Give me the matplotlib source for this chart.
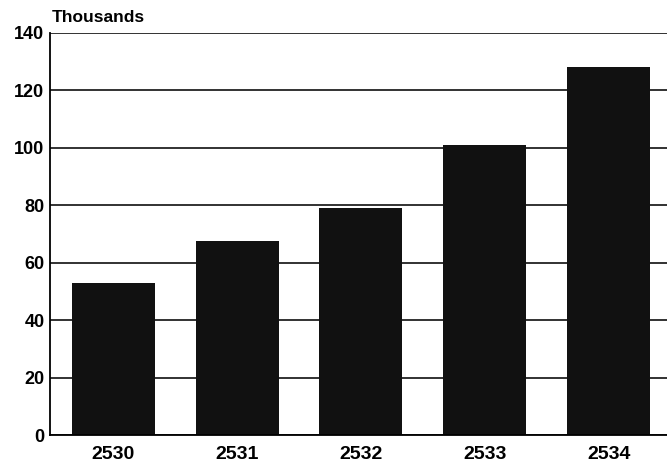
import matplotlib.pyplot as plt

# Valori (migliaia)
anni = ['2530', '2531', '2532', '2533', '2534']
valori = [53, 67.5, 79, 101, 128]
tick_y = [0, 20, 40, 60, 80, 100, 120, 140]

plt.rcParams['font.family'] = ['Liberation Sans', 'DejaVu Sans']

fig = plt.figure(figsize=(6.67, 4.68), dpi=100)
ax = fig.add_axes([0.075, 0.07, 0.925, 0.86])

ax.bar(range(len(anni)), valori, width=0.67, color='#111111', zorder=2)

ax.set_ylim(0, 140)
ax.set_xlim(-0.51, 4.47)
ax.set_yticks(tick_y)
ax.set_xticks(range(len(anni)))
ax.set_xticklabels(anni)
ax.yaxis.grid(True, color='#222222', linewidth=1.3, zorder=1)
ax.set_axisbelow(True)

for lbl in ax.get_yticklabels():
    lbl.set_fontweight('bold')
    lbl.set_fontsize(13)
for lbl in ax.get_xticklabels():
    lbl.set_fontweight('bold')
    lbl.set_fontsize(14)
ax.tick_params(axis='y', length=0, pad=4)
ax.tick_params(axis='x', length=0, pad=8)

ax.spines['right'].set_visible(False)
ax.spines['top'].set_visible(False)
ax.spines['left'].set_linewidth(1.3)
ax.spines['bottom'].set_linewidth(1.3)

fig.text(0.078, 0.953, 'Thousands', fontsize=12.5, fontweight='bold', ha='left', va='baseline')

plt.savefig('out.png', dpi=100)
